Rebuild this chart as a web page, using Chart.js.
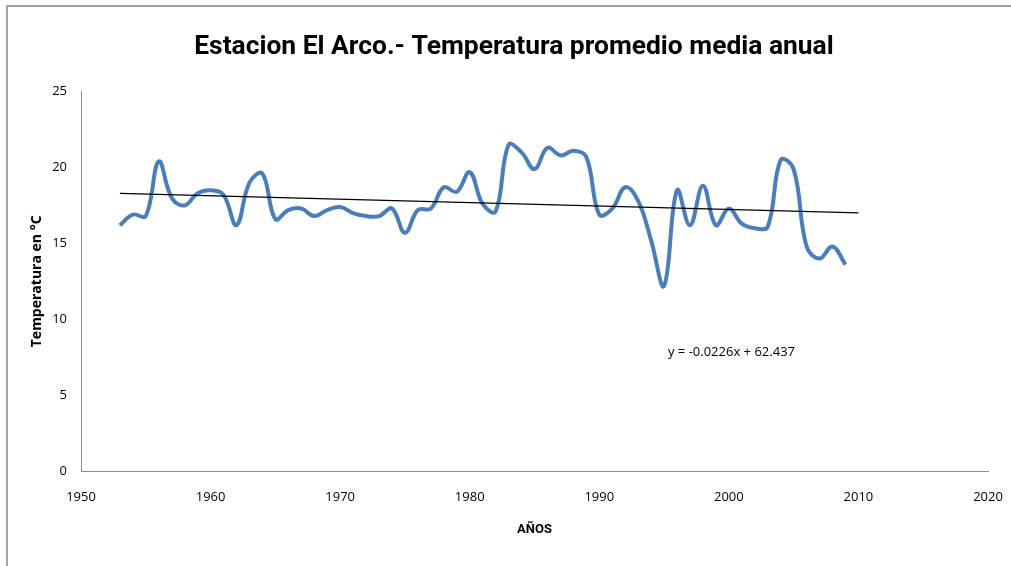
<!DOCTYPE html>
<html>
<head>
<meta charset="utf-8">
<script src="https://cdn.jsdelivr.net/npm/chart.js@4"></script>
<style>
  html, body { margin: 0; padding: 0; background: #fff; overflow: hidden; }
  #wrap { position: relative; width: 1011px; height: 566px; }
  #frame {
    position: absolute; left: 6px; top: 5px; width: 1100px; height: 700px;
    border-top: 2px solid #a3a3a3; border-left: 2px solid #a3a3a3;
  }
  #tempChart { position: absolute; left: 0; top: 0; }
</style>
</head>
<body>
<div id="wrap">
  <div id="frame"></div>
  <canvas id="tempChart" width="1011" height="566"></canvas>
</div>
<script>
const years = [
  1953, 1954, 1955, 1956, 1957, 1958, 1959, 1960, 1961, 1962,
  1963, 1964, 1965, 1966, 1967, 1968, 1969, 1970, 1971, 1972,
  1973, 1974, 1975, 1976, 1977, 1978, 1979, 1980, 1981, 1982,
  1983, 1984, 1985, 1986, 1987, 1988, 1989, 1990, 1991, 1992,
  1993, 1994, 1995, 1996, 1997, 1998, 1999, 2000, 2001, 2002,
  2003, 2004, 2005, 2006, 2007, 2008, 2009
];
const temps = [
  16.2, 16.9, 16.8, 20.4, 18.0, 17.5, 18.3, 18.5, 18.2, 16.2,
  19.0, 19.6, 16.6, 17.2, 17.3, 16.8, 17.2, 17.4, 17.0, 16.8,
  16.8, 17.3, 15.7, 17.2, 17.3, 18.7, 18.4, 19.7, 17.6, 17.1,
  21.5, 21.0, 19.9, 21.3, 20.8, 21.1, 20.7, 16.9, 17.3, 18.7,
  17.8, 15.2, 12.2, 18.5, 16.2, 18.8, 16.2, 17.3, 16.3, 16.0,
  16.1, 20.5, 19.9, 14.8, 14.0, 14.8, 13.6
];

// linear trend y = slope * x + intercept, drawn between these two years
const trendSlope = -0.0226;
const trendIntercept = 62.437;
const trendYears = [1953, 2010];
const trendLabel = "y = -0.0226x + 62.437";
const labelAt = { x: 1995.3, y: 7.85 };

const xTicks = [1950, 1960, 1970, 1980, 1990, 2000, 2010, 2020];
const yTicks = [0, 5, 10, 15, 20, 25];

const axisColor = "#8c8c8c";
const tickFont = { family: "'Open Sans'", size: 13 };

const equationLabel = {
  id: "equationLabel",
  afterDatasetsDraw(chart) {
    const ctx = chart.ctx;
    const x = chart.scales.x.getPixelForValue(labelAt.x);
    const y = chart.scales.y.getPixelForValue(labelAt.y);
    ctx.save();
    ctx.font = "13px 'Open Sans'";
    ctx.fillStyle = "#000";
    ctx.textAlign = "left";
    ctx.textBaseline = "middle";
    ctx.fillText(trendLabel, x, y);
    ctx.restore();
  }
};

new Chart(document.getElementById("tempChart"), {
  type: "line",
  data: {
    datasets: [
      {
        label: "Temperatura",
        data: years.map((yr, i) => ({ x: yr, y: temps[i] })),
        borderColor: "#4a7ebb",
        borderWidth: 4,
        tension: 0.4,
        pointRadius: 0,
        fill: false,
        order: 2
      },
      {
        label: "Lineal",
        data: trendYears.map(yr => ({ x: yr, y: trendSlope * yr + trendIntercept })),
        borderColor: "#000",
        borderWidth: 1.3,
        pointRadius: 0,
        fill: false,
        order: 1
      }
    ]
  },
  options: {
    responsive: false,
    animation: false,
    devicePixelRatio: 1,
    // left padding centres the title a bit right of the canvas middle
    layout: { padding: { left: 40, right: 23, top: 0, bottom: 0 } },
    plugins: {
      legend: { display: false },
      tooltip: { enabled: false },
      title: {
        display: true,
        text: "Estacion El Arco.- Temperatura promedio media anual",
        color: "#000",
        font: { family: "Roboto", size: 26.4, weight: "bold", lineHeight: 1.2 },
        padding: { top: 32, bottom: 28 }
      }
    },
    scales: {
      x: {
        type: "linear",
        min: 1950,
        max: 2020,
        afterBuildTicks: scale => { scale.ticks = xTicks.map(v => ({ value: v })); },
        afterFit: scale => {
          scale.height = 95;
          scale.paddingRight = 0;
        },
        grid: { display: false, drawTicks: false },
        border: { display: true, color: axisColor, width: 1 },
        ticks: {
          padding: 18,
          color: "#000",
          font: tickFont,
          callback: v => String(v)
        },
        title: {
          display: true,
          text: "AÑOS",
          color: "#000",
          font: { family: "Roboto", size: 13, weight: "bold", lineHeight: 1.2 },
          padding: { top: 0, bottom: 28 }
        }
      },
      y: {
        min: 0,
        max: 25,
        afterBuildTicks: scale => { scale.ticks = yTicks.map(v => ({ value: v })); },
        afterFit: scale => { scale.width = 41; },
        grid: { display: false, drawTicks: false },
        border: { display: true, color: axisColor, width: 1 },
        ticks: {
          padding: 14,
          color: "#000",
          font: tickFont
        },
        title: {
          display: true,
          text: "Temperatura en °C",
          color: "#000",
          font: { family: "'Open Sans'", size: 14, weight: "bold", lineHeight: 1.2 },
          // pulls the rotated title back out into the left margin
          padding: { top: -11.4, bottom: 0 }
        }
      }
    }
  },
  plugins: [equationLabel]
});
</script>
</body>
</html>
